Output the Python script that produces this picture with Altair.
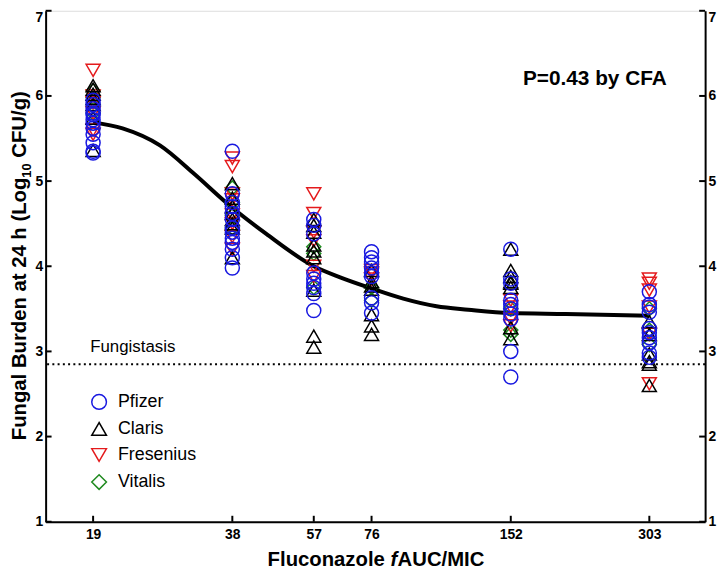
import altair as alt
import pandas as pd

F = "Liberation Sans, Arial, Helvetica, sans-serif"

# ---- data (log10 CFU/g) ----
doses = [19, 38, 57, 76, 152, 303]
brands = ["Pfizer", "Claris", "Fresenius", "Vitalis"]

pfizer = [
    [5.95, 5.9, 5.85, 5.8, 5.78, 5.72, 5.68, 5.62, 5.55, 5.45, 5.35, 5.33],
    [5.35, 4.85, 4.75, 4.7, 4.62, 4.55, 4.45, 4.4, 4.33, 4.28, 4.2, 4.1, 3.98],
    [4.55, 4.48, 4.38, 3.92, 3.85, 3.8, 3.75, 3.68, 3.48],
    [4.17, 4.1, 4.05, 3.98, 3.92, 3.88, 3.63, 3.57, 3.45],
    [4.2, 3.85, 3.8, 3.6, 3.55, 3.5, 3.44, 3.38, 3.0, 2.7],
    [3.7, 3.55, 3.52, 3.46, 3.27, 3.22, 3.16, 3.1, 2.98, 2.93],
]
claris = [
    [6.12, 6.08, 6.02, 5.97, 5.9, 5.74, 5.36],
    [4.97, 4.8, 4.7, 4.62, 4.55, 4.5, 4.45, 4.1],
    [4.55, 4.48, 4.4, 4.25, 4.18, 4.1, 3.72, 3.18, 3.05],
    [3.95, 3.82, 3.77, 3.73, 3.43, 3.3, 3.2],
    [4.2, 3.95, 3.88, 3.82, 3.8, 3.75, 3.28, 3.15],
    [3.35, 3.2, 2.97, 2.88, 2.85, 2.6],
]
fresenius = [
    [6.3, 6.0, 5.92, 5.8, 5.6, 5.55],
    [5.27, 5.17, 4.85, 4.78, 4.6, 4.5, 4.35, 4.2],
    [4.85, 4.62, 4.4, 4.3, 4.0, 3.88],
    [3.95, 3.92, 3.85],
    [3.6, 3.52, 3.38, 3.3],
    [3.85, 3.8, 3.72, 3.52, 3.2, 2.62],
]
vitalis = [
    [6.06, 5.98, 5.88, 5.8],
    [4.92, 4.75, 4.6, 4.45],
    [4.23, 4.15, 3.75],
    [3.75, 3.6],
    [3.5, 3.25, 3.2],
    [3.5, 3.25, 3.08],
]

# fitted curve
curve_x = [19, 22, 26.5, 31.5, 37, 45, 57, 65, 76, 89, 105, 123, 152, 200, 303]
curve_y = [5.69, 5.62, 5.42, 5.08, 4.74, 4.38, 4.0, 3.87, 3.74, 3.62, 3.53, 3.49, 3.45, 3.44, 3.42]

fungistasis = 2.85
y_ticks = [1, 2, 3, 4, 5, 6, 7]

colors = ["#1818e0", "#000000", "#e41a1c", "#1f8a1f"]
shapes = ["circle", "triangle-up", "triangle-down", "diamond"]

# ---- tables ----
rows = []
for name, series in [("Vitalis", vitalis), ("Fresenius", fresenius), ("Claris", claris), ("Pfizer", pfizer)]:
    for d, vals in zip(doses, series):
        for v in vals:
            rows.append({"dose": d, "cfu": v, "brand": name})
pts = pd.DataFrame(rows)
curve = pd.DataFrame({"dose": curve_x, "cfu": curve_y})

W, H = 666, 516
xsc = alt.Scale(type="log", domain=[15, 400], nice=False)
ysc = alt.Scale(domain=[1, 7], nice=False, zero=False)

X = alt.X("dose:Q", scale=xsc, axis=alt.Axis(
    values=doses, format="d", title=None, grid=False, ticks=False, tickSize=0,
    labelFontSize=14, labelFontWeight="bold", labelFont=F, labelColor="black",
    labelPadding=6, labelFlush=False, domainColor="black", domainWidth=2))

top_base = {"condition": {"test": "datum.value == 7", "value": "top"}, "value": "middle"}


def yaxis(orient):
    return alt.Axis(
        orient=orient, values=y_ticks, title=None, grid=False, ticks=False, tickSize=0,
        labelFontSize=14, labelFontWeight="bold", labelFont=F, labelColor="black",
        labelPadding=3, labelFlush=False, labelBaseline=top_base,
        domainColor="black", domainWidth=2)


YL = alt.Y("cfu:Q", scale=ysc, axis=yaxis("left"))
YR = alt.Y("cfu:Q", scale=ysc, axis=yaxis("right"))
YN = alt.Y("cfu:Q", scale=ysc, axis=None)

leg = alt.Legend(title=None, orient="none", legendX=45, legendY=386, padding=0,
                 symbolSize=220, symbolStrokeWidth=1.5, labelFontSize=18, labelFont=F,
                 labelColor="black", rowPadding=6.3, labelOffset=10)

points = alt.Chart(pts).mark_point(filled=False, size=200, strokeWidth=1.5, opacity=1).encode(
    x=X, y=YL,
    color=alt.Color("brand:N", scale=alt.Scale(domain=brands, range=colors), legend=leg),
    shape=alt.Shape("brand:N", scale=alt.Scale(domain=brands, range=shapes), legend=leg),
)

line = alt.Chart(curve).mark_line(color="black", strokeWidth=4, interpolate="monotone").encode(x=X, y=YN)

fung = alt.Chart(pd.DataFrame({"cfu": [fungistasis]})).mark_rule(
    color="black", strokeWidth=2, strokeDash=[2, 3.3]).encode(y=YN)

xt = alt.Chart(pd.DataFrame({"dose": doses})).mark_rule(color="black", strokeWidth=2).encode(
    x=X, y=alt.value(H), y2=alt.value(H - 6))
ylt = alt.Chart(pd.DataFrame({"cfu": y_ticks})).mark_rule(color="black", strokeWidth=2).encode(
    y=YN, x=alt.value(0), x2=alt.value(6))
yrt = alt.Chart(pd.DataFrame({"cfu": y_ticks})).mark_rule(color="black", strokeWidth=2).encode(
    y=YR, x=alt.value(W), x2=alt.value(W - 6))


def txt(d, c, s, dx=0, dy=0, align="left", size=20, weight="bold", style="normal", angle=0, baseline="alphabetic"):
    props = dict(font=F, fontSize=size, fontWeight=weight, fontStyle=style, align=align,
                 baseline=baseline, dx=dx, dy=dy, color="black")
    if angle:
        props["angle"] = angle
    return alt.Chart(pd.DataFrame({"dose": [d], "cfu": [c], "t": [s]})).mark_text(**props).encode(
        x=X, y=YN, text="t:N")


ptext = txt(231, 6.128, "P=0.43 by CFA", align="center", size=21)
ftext = txt(18.73, 2.99, "Fungistasis", size=17, weight="normal")

TS = 20.5
# x title: Fluconazole fAUC/MIC
xa = 83.5
xy = 0.477
xt1 = txt(xa, xy, "Fluconazole", dx=-5.7, align="right", size=TS)
xt2 = txt(xa, xy, "f", style="italic", size=TS)
xt3 = txt(xa, xy, "AUC/MIC", dx=7.2, size=TS)

# y title: Fungal Burden at 24 h (Log10 CFU/g)
ya_x = 13.6
ya_y = 5.04
yt1 = txt(ya_x, ya_y, "Fungal Burden at 24 h (Log", align="right", angle=270, size=TS)
yt2 = txt(ya_x, ya_y, "10", size=13, dy=5, angle=270)
yt3 = txt(ya_x, ya_y, "CFU/g)", dx=20.2, angle=270, size=TS)

chart = alt.layer(
    fung, line, points, xt, ylt, yrt, ptext, ftext, xt1, xt2, xt3, yt1, yt2, yt3
).resolve_axis(y="independent").properties(
    width=W, height=H,
    padding={"left": 38, "top": 0, "right": 12, "bottom": 52},
    autosize=alt.AutoSizeParams(type="none"),
).configure_view(stroke=None).configure(background="white")

chart.save("out.html", embed_options={"renderer": "svg", "actions": False})
